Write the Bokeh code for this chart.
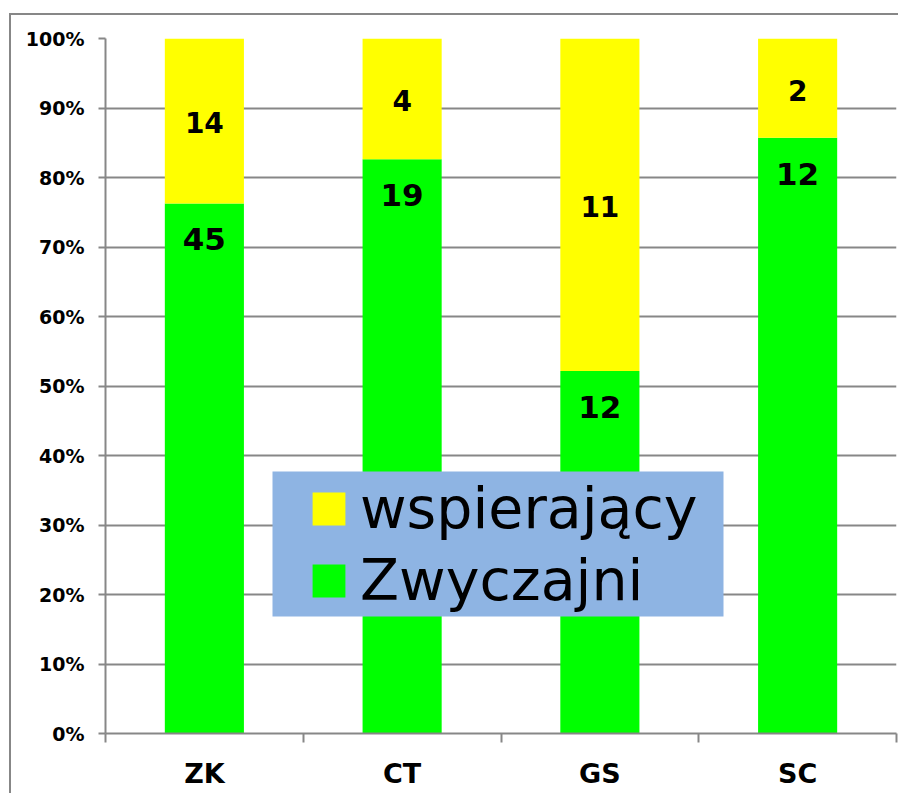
from bokeh.plotting import figure
from bokeh.layouts import column
from bokeh.models import (Range1d, FixedTicker, NumeralTickFormatter, BoxAnnotation,
                          Legend, LegendItem, ColumnDataSource, LabelSet)
from bokeh.core.properties import value
from bokeh.embed import file_html
from bokeh.resources import INLINE

categories = ["ZK", "CT", "GS", "SC"]
zwyczajni = [45, 19, 12, 12]
wspierajacy = [14, 4, 11, 2]
y_ticks = [0.0, 0.1, 0.2, 0.3, 0.4, 0.5, 0.6, 0.7, 0.8, 0.9, 1.0]

GREEN = "#00FF00"
YELLOW = "#FFFF00"
GRAY = "#878787"
FONT = "DejaVu Sans"

totals = [a + b for a, b in zip(zwyczajni, wspierajacy)]
share_z = [a / t for a, t in zip(zwyczajni, totals)]
share_w = [b / t for b, t in zip(wspierajacy, totals)]
xs = [i + 0.5 for i in range(len(categories))]
bounds = [float(i) for i in range(len(categories) + 1)]

src = ColumnDataSource(dict(
    x=xs, z=share_z, w=share_w,
    zl=[str(v) for v in zwyczajni],
    wl=[str(v) for v in wspierajacy],
    wmid=[sz + sw / 2 for sz, sw in zip(share_z, share_w)],
))

p = figure(width=889, height=780, x_range=Range1d(0, len(categories)), y_range=Range1d(0, 1),
           output_backend="svg", toolbar_location=None,
           min_border_left=94, min_border_right=4, min_border_top=23, min_border_bottom=62)
p.outline_line_color = None
p.background_fill_color = "white"
p.border_fill_color = "white"

r_z, r_w = p.vbar_stack(["z", "w"], x="x", width=0.4, color=[GREEN, YELLOW], source=src, line_width=0)

# x axis
p.xaxis.ticker = FixedTicker(ticks=xs, minor_ticks=bounds)
p.xaxis.major_label_overrides = {x: c for x, c in zip(xs, categories)}
p.xaxis.major_tick_out = 0
p.xaxis.major_tick_in = 0
p.xaxis.minor_tick_out = 9
p.xaxis.minor_tick_in = 0
p.xaxis.minor_tick_line_color = GRAY
p.xaxis.minor_tick_line_width = 2
p.xaxis.axis_line_color = GRAY
p.xaxis.axis_line_width = 2
p.xaxis.major_label_text_font = FONT
p.xaxis.major_label_text_font_style = "bold"
p.xaxis.major_label_text_font_size = "27px"
p.xaxis.major_label_text_color = "black"
p.xaxis.major_label_standoff = 15
p.xgrid.visible = False

# y axis
p.yaxis.ticker = FixedTicker(ticks=y_ticks, minor_ticks=[])
p.yaxis.formatter = NumeralTickFormatter(format="0%")
p.yaxis.major_tick_out = 7
p.yaxis.major_tick_in = 0
p.yaxis.major_tick_line_color = GRAY
p.yaxis.major_tick_line_width = 2
p.yaxis.axis_line_color = GRAY
p.yaxis.axis_line_width = 2
p.yaxis.major_label_text_font = FONT
p.yaxis.major_label_text_font_style = "bold"
p.yaxis.major_label_text_font_size = "19px"
p.yaxis.major_label_text_color = "black"
p.yaxis.major_label_standoff = 14
p.ygrid.ticker = FixedTicker(ticks=y_ticks, minor_ticks=[])
p.ygrid.grid_line_color = GRAY
p.ygrid.grid_line_width = 2

# value labels
p.add_layout(LabelSet(x="x", y="z", text="zl", source=src, y_offset=-36,
                      text_align="center", text_baseline="middle",
                      text_font=value(FONT), text_font_style="bold", text_font_size="31px",
                      text_color="black"))
p.add_layout(LabelSet(x="x", y="wmid", text="wl", source=src, y_offset=-2,
                      text_align="center", text_baseline="middle",
                      text_font=value(FONT), text_font_style="bold", text_font_size="28px",
                      text_color="black"))

# legend background
p.add_layout(BoxAnnotation(left=261, right=712, top=456, bottom=601,
                           left_units="canvas", right_units="canvas",
                           top_units="canvas", bottom_units="canvas",
                           fill_color="#8EB4E3", fill_alpha=1, line_color=None))

legend = Legend(items=[LegendItem(label="wspierający", renderers=[r_w]),
                       LegendItem(label="Zwyczajni", renderers=[r_z])],
                location=(203, 120), glyph_width=41, glyph_height=41,
                label_text_font=FONT, label_text_font_size="57px", label_text_color="black",
                label_standoff=11, spacing=6, padding=0, margin=0,
                background_fill_alpha=0, border_line_color=None)
p.add_layout(legend, "center")

# outer chart frame: grey line along the left and top edges of the chart area
layout = column(p, styles={"margin-left": "11px", "margin-top": "15px",
                           "background-color": "white",
                           "box-shadow": f"-2px -2px 0px 0px {GRAY}"})

open("out.html", "w").write(file_html(layout, INLINE))
